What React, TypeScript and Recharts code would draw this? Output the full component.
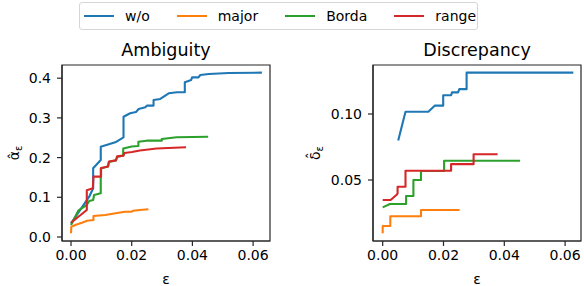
import { LineChart, Line, XAxis, YAxis, Legend, ReferenceArea } from 'recharts'

const SERIES = ['w/o', 'major', 'Borda', 'range']
const COLORS = ['#1f77b4', '#ff7f0e', '#2ca02c', '#d62728']
const FONT = '"DejaVu Sans", sans-serif'

const X_TICKS = [0, 0.02, 0.04, 0.06]
const AMB_Y_TICKS = [0, 0.1, 0.2, 0.3, 0.4]
const DIS_Y_TICKS = [0.05, 0.1]

// Ambiguity
const ambWoX = [0, 0.006, 0.0073, 0.0073, 0.0098, 0.0098, 0.0146, 0.0173, 0.0173, 0.0195, 0.0214, 0.0223, 0.0245, 0.025, 0.0272, 0.0272, 0.0294, 0.0322, 0.0349, 0.0375, 0.0375, 0.0396, 0.0399, 0.042, 0.0426, 0.0454, 0.052, 0.0629]
const ambWoY = [0.0345, 0.1015, 0.1227, 0.173, 0.194, 0.2275, 0.2385, 0.251, 0.303, 0.3116, 0.315, 0.3224, 0.3267, 0.331, 0.331, 0.345, 0.3476, 0.362, 0.3645, 0.3645, 0.39, 0.3955, 0.402, 0.402, 0.408, 0.4106, 0.413, 0.414]
const ambMajorX = [0, 0.0001, 0.0014, 0.0036, 0.0053, 0.0074, 0.0074, 0.0113, 0.0157, 0.0178, 0.02, 0.0205, 0.0227, 0.0255]
const ambMajorY = [0.0093, 0.026, 0.03, 0.036, 0.041, 0.043, 0.053, 0.0554, 0.0612, 0.0637, 0.0637, 0.0662, 0.068, 0.0698]
const ambBordaX = [0, 0.0024, 0.0052, 0.006, 0.0073, 0.0076, 0.0098, 0.0098, 0.0122, 0.0125, 0.0148, 0.0152, 0.0172, 0.0172, 0.02, 0.0222, 0.0222, 0.0249, 0.0299, 0.0299, 0.032, 0.0348, 0.0452]
const ambBordaY = [0.0302, 0.0662, 0.0806, 0.0907, 0.0932, 0.1058, 0.11, 0.1725, 0.1776, 0.189, 0.193, 0.2015, 0.205, 0.223, 0.228, 0.229, 0.24, 0.2426, 0.2426, 0.247, 0.2486, 0.2511, 0.2526]
const ambRangeX = [0, 0.0052, 0.0052, 0.0072, 0.0074, 0.0099, 0.0099, 0.0122, 0.0125, 0.0148, 0.0152, 0.0173, 0.0176, 0.0201, 0.0227, 0.0282, 0.0379]
const ambRangeY = [0.036, 0.068, 0.118, 0.1227, 0.152, 0.152, 0.174, 0.1776, 0.19, 0.193, 0.203, 0.205, 0.2116, 0.214, 0.218, 0.223, 0.226]

// Discrepancy
const disWoX = [0.0051, 0.0075, 0.015, 0.0171, 0.0199, 0.0199, 0.0225, 0.0228, 0.0248, 0.0252, 0.0276, 0.0276, 0.0627]
const disWoY = [0.0799, 0.1017, 0.1017, 0.1063, 0.1063, 0.1142, 0.1142, 0.1164, 0.1164, 0.1188, 0.1188, 0.1313, 0.1313]
const disMajorX = [0, 0, 0.0025, 0.0025, 0.0126, 0.0126, 0.0253]
const disMajorY = [0.0096, 0.0152, 0.0152, 0.0225, 0.0225, 0.0273, 0.0273]
const disBordaX = [0, 0.0024, 0.0077, 0.0077, 0.0101, 0.0101, 0.0126, 0.0126, 0.0202, 0.0202, 0.0452]
const disBordaY = [0.0293, 0.0318, 0.0318, 0.0379, 0.0379, 0.05, 0.05, 0.0568, 0.0568, 0.0646, 0.0646]
const disRangeX = [0, 0.0026, 0.0045, 0.0049, 0.0049, 0.0075, 0.0075, 0.0225, 0.0225, 0.0299, 0.0299, 0.0378]
const disRangeY = [0.0348, 0.0348, 0.0386, 0.0398, 0.0449, 0.0449, 0.057, 0.057, 0.062, 0.062, 0.0695, 0.0695]

const zip = (xs: number[], ys: number[]) => xs.map((x, i) => ({ x, y: ys[i] }))

const ambData = [zip(ambWoX, ambWoY), zip(ambMajorX, ambMajorY), zip(ambBordaX, ambBordaY), zip(ambRangeX, ambRangeY)]
const disData = [zip(disWoX, disWoY), zip(disMajorX, disMajorY), zip(disBordaX, disBordaY), zip(disRangeX, disRangeY)]

const SPINE = '#262626'
const tickStyle = { fill: '#000', fontSize: 14, fontFamily: FONT }

// fixed order, recharts sorts the payload by name
function LegendBox() {
  return (
    <div style={{
      boxSizing: 'border-box', width: 399, height: 28, border: '1px solid #d6d6d6', borderRadius: 3,
      background: 'rgba(255,255,255,0.8)', display: 'flex', alignItems: 'center', paddingLeft: 4,
      fontFamily: FONT, fontSize: 14, color: '#000',
    }}>
      {SERIES.map((s, i) => (
        <div key={s} style={{ display: 'flex', alignItems: 'center', marginRight: i < SERIES.length - 1 ? 27 : 0 }}>
          <div style={{ width: 30, height: 2.2, background: COLORS[i], marginRight: 11 }} />
          <span>{s}</span>
        </div>
      ))}
    </div>
  )
}

interface PanelProps {
  title: string
  data: { x: number; y: number }[][]
  xDomain: [number, number]
  yDomain: [number, number]
  yTicks: number[]
  yDigits: number
  marginLeft: number
  marginRight: number
  yAxisWidth: number
  yLabel: string
  yLabelX: number
  showLegend?: boolean
}

function Panel(p: PanelProps) {
  const plotLeft = p.marginLeft + p.yAxisWidth
  const plotRight = 584 - p.marginRight
  const cx = (plotLeft + plotRight) / 2
  return (
    <LineChart width={584} height={286} margin={{ top: 65, right: p.marginRight, bottom: 0, left: p.marginLeft }}>
      <XAxis type="number" dataKey="x" domain={p.xDomain} allowDataOverflow ticks={X_TICKS}
        tickFormatter={(v: number) => v.toFixed(2)} height={45} tickSize={5} tickMargin={4}
        stroke={SPINE} strokeWidth={1.2} tick={tickStyle} interval={0} />
      <YAxis type="number" dataKey="y" domain={p.yDomain} allowDataOverflow ticks={p.yTicks}
        tickFormatter={(v: number) => v.toFixed(p.yDigits)} width={p.yAxisWidth} tickSize={5} tickMargin={6}
        stroke={SPINE} strokeWidth={1.2} tick={tickStyle} interval={0} />
      <ReferenceArea x1={p.xDomain[0]} x2={p.xDomain[1]} y1={p.yDomain[0]} y2={p.yDomain[1]}
        fill="none" fillOpacity={0} stroke={SPINE} strokeWidth={1.2} ifOverflow="visible" />
      {p.data.map((d, i) => (
        <Line key={SERIES[i]} name={SERIES[i]} data={d} dataKey="y" type="linear" stroke={COLORS[i]}
          strokeWidth={2.1} dot={false} activeDot={false} isAnimationActive={false} strokeLinejoin="round" />
      ))}
      {p.showLegend && (
        <Legend verticalAlign="middle" align="center" layout="horizontal" content={LegendBox}
          wrapperStyle={{ left: 79, top: 2, width: 399, height: 28 }} />
      )}
      <text x={cx} y={56} textAnchor="middle" fontSize={17.5} fontFamily={FONT} fill="#000">{p.title}</text>
      <text x={cx} y={284} textAnchor="middle" fontSize={14} fontFamily={FONT} fill="#000">ε</text>
      <text transform={`translate(${p.yLabelX},153) rotate(-90)`} textAnchor="middle" fontSize={14} fontFamily={FONT} fill="#000">
        {p.yLabel}<tspan dy={3} fontSize={10}>ε</tspan>
      </text>
    </LineChart>
  )
}

export default function App() {
  return (
    <div style={{ position: 'absolute', left: 0, top: 0, width: 584, height: 286, background: '#fff' }}>
      <div style={{ position: 'absolute', left: 0, top: 0 }}>
        <Panel title="Ambiguity" data={ambData} xDomain={[-0.00297, 0.06557]} yDomain={[-0.0101, 0.4332]}
          yTicks={AMB_Y_TICKS} yDigits={1} marginLeft={22} yAxisWidth={40} marginRight={314}
          yLabel={'\u03b1\u0302'} yLabelX={19} showLegend />
      </div>
      <div style={{ position: 'absolute', left: 0, top: 0 }}>
        <Panel title="Discrepancy" data={disData} xDomain={[-0.00319, 0.06523]} yDomain={[0.0038, 0.1371]}
          yTicks={DIS_Y_TICKS} yDigits={2} marginLeft={323} yAxisWidth={50} marginRight={3}
          yLabel={'\u03b4\u0302'} yLabelX={320} />
      </div>
    </div>
  )
}
